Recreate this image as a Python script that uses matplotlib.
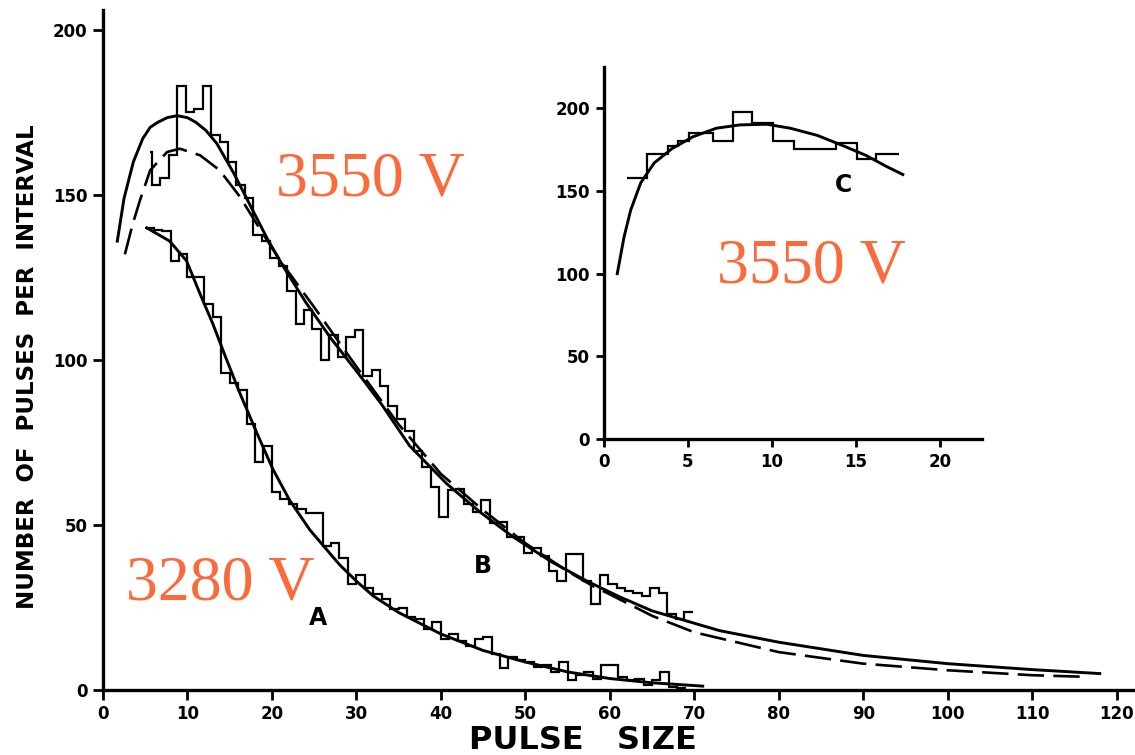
import matplotlib
matplotlib.use("Agg")
import matplotlib.pyplot as plt
import numpy as np

# --- curve B (3550 V), solid fit and dashed fit
b_fit_x = [1.7, 2.5, 3.6, 4.7, 5.6, 6.5, 7.6, 8.8, 10.0, 11.0, 12.2, 13.5, 15.5,
           17.5, 19.5, 21.3, 24.0, 27.0, 30.5, 33.0, 36.3, 40.7, 44.6, 48.5,
           53.0, 57.3, 61.2, 65.0, 69.0, 73.0, 80.0, 90.0, 100.0, 110.0, 118.0]
b_fit_y = [136, 149, 160, 167, 170.5, 172, 173.4, 174, 173.4, 172, 169.5, 165.5,
           156.5, 146.5, 136.5, 128.5, 117.5, 106.5, 95, 86.5, 74, 62.5, 54, 46.5,
           39, 33, 28.2, 24, 21, 18, 14.5, 10.5, 8, 6.2, 5]
b_dash_x = [2.6, 3.5, 4.4, 5.6, 7.6, 9.1, 11.5, 13.8, 16.2, 18.5, 21.0, 25.0, 30.0,
            35.0, 40.0, 45.0, 50.0, 55.0, 58.0, 60.0, 65.0, 70.0, 80.0, 90.0,
            100.0, 110.0, 116.5]
b_dash_y = [132, 141, 148.5, 157.5, 163, 164, 162, 157.5, 149.5, 140, 130, 116,
            98, 80.5, 65.5, 54.5, 44.5, 36, 31.5, 29, 22.5, 17.5, 11.5, 8, 6,
            4.5, 4]

# --- curve A (3280 V)
a_fit_x = [5.2, 7.9, 9.9, 11.5, 13.0, 14.5, 16.2, 18.2, 20.1, 22.1, 24.5, 26.0,
           28.0, 30.0, 32.0, 35.0, 40.0, 45.0, 50.0, 55.0, 60.0, 65.0, 71.0]
a_fit_y = [140, 136, 130, 120, 111, 101, 90, 78, 67, 57.5, 48.5, 44, 38, 33,
           28.5, 23.5, 17, 12, 8.5, 5.5, 3.5, 2.2, 1.2]

# --- histogram A, unit bins starting at 5
a_start = 5.0
a_counts = [140, 139.5, 139, 130, 132, 125, 125, 117, 113, 96, 93, 91, 80.5, 69,
            74, 60, 58, 56.5, 55, 53.5, 53.5, 43.5, 44.5, 40, 32, 35, 31, 29,
            27.5, 24.5, 25, 22, 21.5, 18.5, 20.5, 15.5, 17, 15, 13.5, 15.5, 16,
            11, 6.6, 10, 9, 8.5, 7, 7.5, 5.5, 8.5, 3, 4.5, 5.5, 3.5, 7.5, 7.5, 4,
            3, 3.5, 1.5, 3, 5.5, 1, 0.5]

# --- histogram B, unit bins starting at 5.8 (plus a short first piece)
b_start = 5.8
b_first = 163
b_counts = [153, 155, 162, 183, 175, 176, 183, 168, 166, 160, 153, 149, 138, 136,
            131, 128.6, 121, 111, 115, 109.5, 100, 107.5, 101, 107, 109, 95, 97,
            92, 86, 82, 78.5, 72.5, 67.5, 61.5, 52.5, 60.5, 61, 56.5, 54, 57.5,
            50.5, 51, 46.5, 46.5, 41.5, 43, 40.5, 36, 33, 41.3, 41.3, 33, 26, 35,
            32, 31, 30, 29.5, 28.5, 31, 29.5, 23, 21.5, 23.5]

# --- inset C
c_edges = [1.4, 2.6, 3.8, 4.4, 5.1, 6.5, 7.7, 8.8, 10.1, 11.3, 12.5, 13.8, 15.1,
           16.2, 17.6]
c_counts = [158, 172.5, 177.5, 180.5, 185, 180.5, 198, 191, 180.5, 175.5, 175.5,
            179, 169.5, 172.5]
c_fit_x = [0.8, 1.2, 1.6, 2.2, 3.0, 4.05, 5.3, 6.7, 8.1, 9.7, 11.1, 12.7, 14.2,
           15.6, 16.8, 17.8]
c_fit_y = [100, 122, 138.5, 155, 167, 175.6, 182.8, 188, 190, 190.4, 188, 183.7,
           177.6, 171.6, 165, 160]

main_xticks = list(range(0, 121, 10))
main_yticks = [0, 50, 100, 150, 200]
inset_xticks = [0, 5, 10, 15, 20]
inset_yticks = [0, 50, 100, 150, 200]

ORANGE = "#FA6A3A"
INK = "black"
serif = ["Liberation Serif", "DejaVu Serif"]

fig = plt.figure(figsize=(11.35, 7.55), dpi=100)
ax = fig.add_axes([0.0907, 0.086, 0.908, 0.9007])

a_edges = a_start + np.arange(len(a_counts) + 1)
b_edges = np.concatenate([[5.55], b_start + np.arange(len(b_counts) + 1)])
ax.stairs(a_counts, a_edges, baseline=None, color=INK, lw=1.6)
ax.stairs([b_first] + b_counts, b_edges, baseline=None, color=INK, lw=1.6)
ax.plot(a_fit_x, a_fit_y, color=INK, lw=2.1)
ax.plot(b_fit_x, b_fit_y, color=INK, lw=2.1)
ax.plot(b_dash_x, b_dash_y, color=INK, lw=1.9, dashes=(10, 3.5))

ax.set_xlim(0, 122)
ax.set_ylim(0, 206)
for side in ("top", "right"):
    ax.spines[side].set_visible(False)
for side in ("left", "bottom"):
    ax.spines[side].set_linewidth(2.4)
ax.set_xticks(main_xticks)
ax.set_yticks(main_yticks)
ax.tick_params(width=2.0, length=7, labelsize=12, pad=4)
for lab in ax.get_xticklabels() + ax.get_yticklabels():
    lab.set_fontweight("bold")
ax.set_xlabel("PULSE   SIZE", fontsize=23, fontweight="bold")
ax.xaxis.set_label_coords(0.466, -0.052)
ax.set_ylabel("NUMBER  OF  PULSES  PER  INTERVAL", fontsize=16.5,
              fontweight="bold")
ax.yaxis.set_label_coords(-0.062, 0.475)

fig.text(483 / 1135, 1 - 566 / 755, "B", fontsize=17, fontweight="bold",
         ha="center", va="center")
fig.text(318 / 1135, 1 - 618 / 755, "A", fontsize=17, fontweight="bold",
         ha="center", va="center")
fig.text(370 / 1135, 1 - 180 / 755, "3550 V", color=ORANGE, fontsize=46,
         family=serif, ha="center", va="center")
fig.text(220 / 1135, 1 - 585 / 755, "3280 V", color=ORANGE, fontsize=46,
         family=serif, ha="center", va="center")

# inset
ins = fig.add_axes([0.532, 0.4185, 0.333, 0.4927])
ins.patch.set_alpha(0)
ins.stairs(c_counts, c_edges, baseline=None, color=INK, lw=1.6)
ins.plot(c_fit_x, c_fit_y, color=INK, lw=2.1)
ins.set_xlim(0, 22.5)
ins.set_ylim(0, 225)
for side in ("top", "right"):
    ins.spines[side].set_visible(False)
for side in ("left", "bottom"):
    ins.spines[side].set_linewidth(2.4)
ins.set_xticks(inset_xticks)
ins.set_yticks(inset_yticks)
ins.tick_params(width=2.0, length=6, labelsize=12, pad=4)
for lab in ins.get_xticklabels() + ins.get_yticklabels():
    lab.set_fontweight("bold")
fig.text(843 / 1135, 1 - 185 / 755, "C", fontsize=17, fontweight="bold",
         ha="center", va="center")
fig.text(811 / 1135, 1 - 268 / 755, "3550 V", color=ORANGE, fontsize=46,
         family=serif, ha="center", va="center")

fig.savefig("out.png", dpi=100)
